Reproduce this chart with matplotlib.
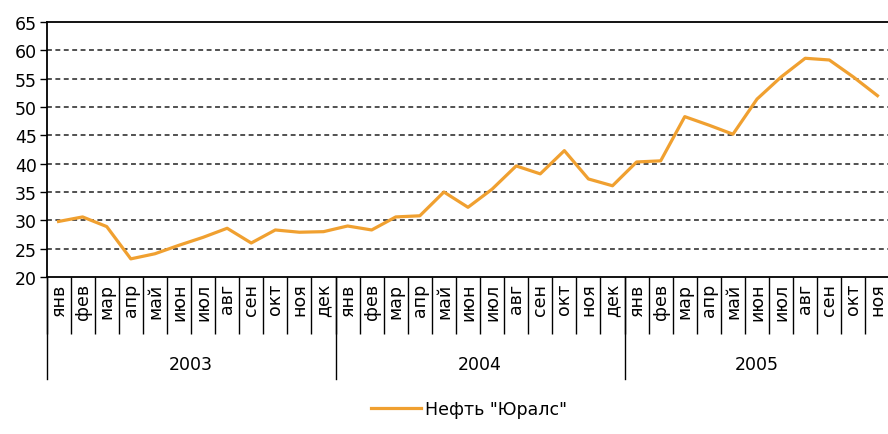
import numpy as np
import matplotlib
matplotlib.use('Agg')
import matplotlib.pyplot as plt
import matplotlib.transforms as mtransforms

# month labels and years
months = ['янв', 'фев', 'мар', 'апр', 'май', 'июн', 'июл', 'авг', 'сен', 'окт', 'ноя', 'дек']
years = ['2003', '2004', '2005']
months_per_year = [12, 12, 11]
# Urals oil price, USD per barrel
urals = [29.8, 30.6, 28.9, 23.2, 24.1, 25.6, 27.0, 28.6, 26.0, 28.3, 27.9, 28.0,
         29.0, 28.3, 30.6, 30.8, 35.0, 32.3, 35.5, 39.6, 38.2, 42.3, 37.3, 36.1,
         40.3, 40.5, 48.3, 46.8, 45.2, 51.4, 55.3, 58.6, 58.3, 55.3, 52.0]
series_name = 'Нефть "Юралс"'

cats = []
for n in months_per_year:
    cats += months[:n]
x = np.arange(len(cats))

plt.rcParams['font.family'] = ['DejaVu Sans']
fig = plt.figure(figsize=(8.88, 4.35), dpi=100)
W, H = 888.0, 435.0
ax = fig.add_axes([46.5/W, 1-278/H, (889.5-46.5)/W, (278-23)/H])

line, = ax.plot(x, urals, color='#F0A030', lw=2.3, label=series_name, solid_joinstyle='round')

ax.set_xlim(-0.5, len(cats)-0.5)
ax.set_ylim(20, 65)
ax.set_yticks(np.arange(20, 66, 5))
ax.tick_params(axis='y', length=5, width=1.0, labelsize=12.5, pad=2)
for v in np.arange(25, 61, 5):
    ax.axhline(v, color='#222222', lw=1.1, ls=(0, (3.2, 2.3)), zorder=0)

for s in ['left', 'top', 'bottom']:
    ax.spines[s].set_linewidth(1.3)
ax.spines['right'].set_visible(False)

# month labels
ax.set_xticks(x)
ax.set_xticklabels(cats, rotation=90, fontsize=12.5)
ax.tick_params(axis='x', which='major', length=0, pad=4)
ax.set_xticks(np.arange(-0.5, len(cats), 1), minor=True)
ax.tick_params(axis='x', which='minor', length=41, width=1.0)

# year separators and labels
trans = mtransforms.blended_transform_factory(ax.transData, ax.transAxes)
start = 0
for yr, n in zip(years, months_per_year):
    ax.plot([start-0.5, start-0.5], [0, -0.4], color='black', lw=1.0,
            transform=trans, clip_on=False)
    ax.text(start + (n-1)/2, -0.34, yr, transform=trans, ha='center', va='center',
            fontsize=12.5)
    start += n

fig.legend(handles=[line], loc='center', bbox_to_anchor=(0.528, 0.057), frameon=False,
           handlelength=2.9, handletextpad=0.2, fontsize=12.5)

fig.savefig('out.png', dpi=100)
